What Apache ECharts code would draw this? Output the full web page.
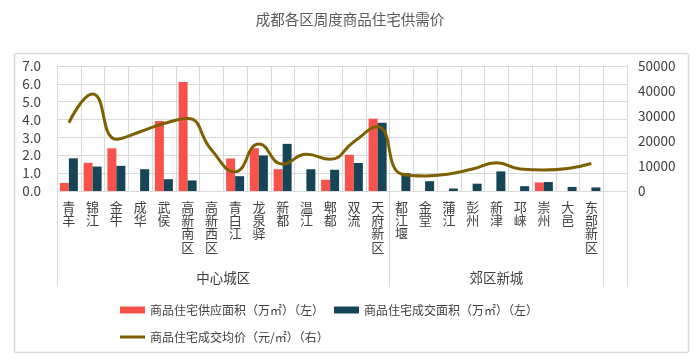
<!DOCTYPE html>
<html>
<head>
<meta charset="utf-8">
<script src="https://cdn.jsdelivr.net/npm/echarts@6/dist/echarts.min.js"></script>
<style>
html,body{margin:0;padding:0;background:#fff;}
#main{width:700px;height:363px;}
</style>
</head>
<body>
<div id="main"></div>
<script>
// ---- data ----
const categories = ['青羊','锦江','金牛','成华','武侯','高新南区','高新西区','青白江','龙泉驿','新都','温江','郫都','双流','天府新区','都江堰','金堂','蒲江','彭州','新津','邛崃','崇州','大邑','东部新区',''];
const supplyArea = [0.45,1.58,2.39,null,3.92,6.10,null,1.82,2.40,1.22,null,0.63,2.03,4.05,null,null,null,null,null,null,0.48,null,null,null];
const dealArea   = [1.83,1.37,1.41,1.22,0.66,0.59,null,0.83,1.99,2.64,1.22,1.19,1.57,3.82,0.99,0.55,0.14,0.41,1.10,0.27,0.50,0.23,0.20,null];
const avgPrice   = [27300,38800,20700,23700,27000,29000,16500,7700,18800,10800,14700,12700,19700,25700,6800,6000,6800,8800,11300,8800,8400,9000,11000,null];
const groups = [{name:'中心城区', start:0, end:14},{name:'郊区新城', start:14, end:23},{name:'', start:23, end:24}];
const leftTicks = {min:0, max:7, interval:1};
const rightTicks = {min:0, max:50000, interval:10000};
const seriesNames = ['商品住宅供应面积（万㎡）（左）','商品住宅成交面积（万㎡）（左）','商品住宅成交均价（元/㎡）（右）'];
const titleText = '成都各区周度商品住宅供需价';

// ---- group axis (half-band resolution) ----
const nHalf = categories.length * 2;
const groupCats = [];
for (let i = 0; i <= nHalf; i++) groupCats.push('');
const groupLines = new Set();
groups.forEach(g => {
  groupLines.add(g.start * 2); groupLines.add(g.end * 2);
  if (g.name) groupCats[g.start + g.end] = g.name;
});

const FONT = 'Noto Sans CJK SC';
const GRID_COLOR = '#d9d9d9';
const TEXT = '#404040';

const chart = echarts.init(document.getElementById('main'), null, {renderer:'canvas'});
chart.setOption({
  animation: false,
  backgroundColor: '#fff',
  textStyle: {fontFamily: FONT},
  title: {
    text: titleText, left: 'center', top: 7,
    textStyle: {fontSize: 14.5, fontWeight: 'normal', color: '#595959', fontFamily: FONT}
  },
  graphic: [{
    type: 'rect', left: 12, top: 51, silent: true, z: -1,
    shape: {width: 674, height: 299, r: 2},
    style: {fill: 'none', stroke: GRID_COLOR, lineWidth: 1.5}
  }],
  legend: [{
    data: [{name: seriesNames[0], icon: 'rect'}, {name: seriesNames[1], icon: 'rect'}],
    left: 115, top: 299, itemWidth: 25, itemHeight: 7, itemGap: 10,
    textStyle: {fontSize: 12, color: TEXT, fontFamily: FONT}
  },{
    data: [{name: seriesNames[2], icon: 'rect'}],
    left: 115, top: 326, itemWidth: 25, itemHeight: 3,
    textStyle: {fontSize: 12, color: TEXT, fontFamily: FONT}
  }],
  grid: [
    {left: 57, right: 73, top: 66, height: 125},
    {left: 57, right: 73, top: 191, height: 96}
  ],
  xAxis: [{
    type: 'category', gridIndex: 0, data: categories, boundaryGap: true,
    axisLine: {show: true, lineStyle: {color: GRID_COLOR, width: 1}},
    axisTick: {show: false},
    splitLine: {show: true, interval: 0, lineStyle: {color: GRID_COLOR, width: 1}},
    axisLabel: {
      interval: 0, margin: 9, fontSize: 13, lineHeight: 13.4, color: TEXT, fontFamily: FONT,
      formatter: v => v.split('').join('\n')
    }
  },{
    type: 'category', gridIndex: 1, data: groupCats, boundaryGap: false,
    axisLine: {show: false}, axisTick: {show: false},
    splitLine: {show: true, interval: (i) => groupLines.has(i), lineStyle: {color: GRID_COLOR, width: 1}},
    axisLabel: {interval: 0, inside: true, margin: 2, fontSize: 13.5, color: TEXT, fontFamily: FONT}
  }],
  yAxis: [{
    type: 'value', gridIndex: 0, position: 'left',
    min: leftTicks.min, max: leftTicks.max, interval: leftTicks.interval,
    axisLine: {show: false}, axisTick: {show: false},
    splitLine: {show: true, lineStyle: {color: GRID_COLOR, width: 1}},
    axisLabel: {margin: 16, fontSize: 13.5, color: TEXT, fontFamily: FONT, formatter: v => v.toFixed(1)}
  },{
    type: 'value', gridIndex: 0, position: 'right',
    min: rightTicks.min, max: rightTicks.max, interval: rightTicks.interval,
    axisLine: {show: false}, axisTick: {show: false}, splitLine: {show: false},
    axisLabel: {margin: 11, fontSize: 13.5, color: TEXT, fontFamily: FONT, formatter: v => String(v)}
  },{
    type: 'value', gridIndex: 1, show: false
  }],
  series: [{
    name: seriesNames[0], type: 'bar', xAxisIndex: 0, yAxisIndex: 0,
    data: supplyArea, barWidth: 9, barGap: '0%',
    itemStyle: {color: '#f9524a'}
  },{
    name: seriesNames[1], type: 'bar', xAxisIndex: 0, yAxisIndex: 0,
    data: dealArea, barWidth: 9, barGap: '0%',
    itemStyle: {color: '#164557'}
  },{
    name: seriesNames[2], type: 'line', xAxisIndex: 0, yAxisIndex: 1,
    data: avgPrice, smooth: 0.5, symbol: 'none', connectNulls: false,
    lineStyle: {color: '#7f6000', width: 3}, itemStyle: {color: '#7f6000'}, z: 5
  }]
});
</script>
</body>
</html>
